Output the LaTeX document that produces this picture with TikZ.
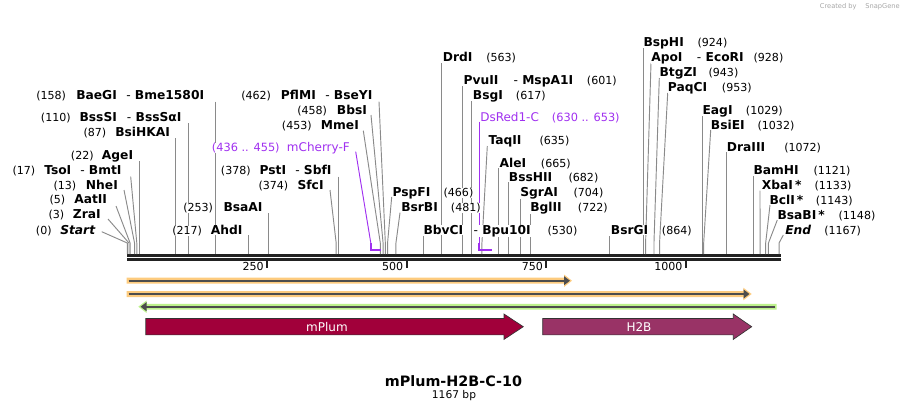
\documentclass[tikz,border=0pt]{standalone}
\usepackage{fontspec}
\setmainfont{DejaVu Sans}
\usetikzlibrary{arrows.meta}
\definecolor{primer}{HTML}{A030F0}
\definecolor{hlorange}{HTML}{FDCB7E}
\definecolor{hlgreen}{HTML}{BDF28C}
\definecolor{darkarrow}{HTML}{4D4D4D}
\definecolor{plumc}{HTML}{A1003A}
\definecolor{htwob}{HTML}{993366}
\definecolor{cutgray}{HTML}{8A8A8A}
\definecolor{bbone}{HTML}{222222}
\newcommand\bpx[1]{127.3+0.5585*#1}
\newcommand\slcut[4]{\coordinate (#1-t) at (#2,#3); \coordinate (#1-b) at ({\bpx{#4}},243); \coordinate (#1-s) at ({\bpx{#4}},254); \draw[cut] (#1-t) -- (#1-b) -- (#1-s);}
\newcommand\vcut[3]{\coordinate (#1-t) at ({\bpx{#3}},#2); \coordinate (#1-s) at ({\bpx{#3}},254); \draw[cut] (#1-t) -- (#1-s);}
\tikzset{
  cut/.style={draw=cutgray, line width=0.7pt},
  nm/.style={anchor=base west, inner sep=0pt, fill=white, font=\fontsize{9.2}{11}\selectfont\bfseries},
  nb/.style={anchor=base west, inner sep=0pt, fill=white, font=\fontsize{8.3}{10}\selectfont},
  pnm/.style={anchor=base west, inner sep=0pt, fill=white, text=primer, font=\fontsize{9}{11}\selectfont},
  pnb/.style={anchor=base west, inner sep=0pt, fill=white, text=primer, font=\fontsize{8.5}{10}\selectfont},
  pline/.style={draw=primer, line width=0.7pt},
  pmark/.style={draw=primer, line width=1.6pt},
  tick/.style={draw=bbone, line width=1.5pt},
  ticklab/.style={anchor=east, inner sep=0pt, font=\fontsize{8.3}{10}\selectfont},
  darr/.style={draw=darkarrow, line width=1.5pt},
  feat/.style={draw=black!80, line width=0.5pt},
  featlab/.style={text=white, font=\fontsize{9}{11}\selectfont, inner sep=0pt}
}
\begin{document}
\begin{tikzpicture}[x=0.75pt,y=-0.75pt]
\useasboundingbox (0,0) rectangle (908,412);
% backbone
\fill[bbone] (126.7,254) rectangle (780.7,257);
\fill[bbone] (126.7,258) rectangle (780.7,261);
% ticks
\foreach \v/\n in {250/t250,500/t500,750/t750,1000/t1000}{
  \coordinate (\n-a) at ({\bpx{\v}},261);
  \coordinate (\n-b) at ({\bpx{\v}},268.3);
  \draw[tick] (\n-a) -- (\n-b);
  \node[ticklab] (\n-l) at ({\bpx{\v}-3},266.8) {\v};
}
% cut lines
\slcut{Start}{101.7}{231.7}{0}
\slcut{ZraI}{108}{219}{3}
\slcut{AatII}{116}{206}{5}
\slcut{NheI}{124}{190}{13}
\slcut{TsoI}{130.7}{176.7}{17}
\vcut{AgeI}{161}{22}
\vcut{BsiHKAI}{138.3}{87}
\vcut{BssSI}{123.3}{110}
\vcut{BaeGI}{101.7}{158}
\vcut{AhdI}{235}{217}
\vcut{BsaAI}{213.3}{253}
\slcut{SfcI}{330}{190}{374}
\vcut{PstI}{176.7}{378}
\slcut{MmeI}{363.3}{130.7}{453}
\slcut{BbsI}{371}{115}{458}
\slcut{PflMI}{379}{101.7}{462}
\slcut{PspFI}{391.7}{197}{466}
\slcut{BsrBI}{400}{212.7}{481}
\vcut{BbvCI}{236}{530}
\vcut{DrdI}{63.3}{563}
\vcut{PvuII}{86}{601}
\vcut{BsgI}{101}{617}
\slcut{TaqII}{487.3}{146}{635}
\vcut{AleI}{168}{665}
\vcut{BssHII}{182}{682}
\vcut{SgrAI}{197}{704}
\vcut{BglII}{212}{722}
\vcut{BsrGI}{236}{864}
\vcut{BspHI}{48.3}{924}
\slcut{ApoI}{651}{63}{928}
\slcut{BtgZI}{659.3}{78}{943}
\slcut{PaqCI}{667.7}{93}{953}
\vcut{EagI}{116}{1029}
\slcut{BsiEI}{710.7}{130}{1032}
\vcut{DraIII}{152}{1072}
\vcut{BamHI}{176}{1121}
\slcut{XbaI}{760}{190.7}{1133}
\slcut{BclI}{770}{205}{1143}
\slcut{BsaBI}{777.3}{220}{1148}
\slcut{End}{783.3}{235}{1167}
% primers
\coordinate (mc-t) at (355.7,151.7);
\coordinate (mc-b) at ({\bpx{436}},243);
\coordinate (mc-s) at ({\bpx{436}},250);
\coordinate (mc-e) at ({\bpx{455}},250);
\draw[pline] (mc-t) -- (mc-b);
\draw[pmark] (mc-b) -- (mc-s) -- (mc-e);
\coordinate (ds-t) at ({\bpx{630}},121.7);
\coordinate (ds-b) at ({\bpx{630}},243);
\coordinate (ds-s) at ({\bpx{630}},250);
\coordinate (ds-e) at ({\bpx{653}},250);
\draw[pline] (ds-t) -- (ds-b);
\draw[pmark] (ds-b) -- (ds-s) -- (ds-e);
% labels left group
\node[nb] (n-Start) at (35.7,234.5) {(0)};
\node[nm] (l-Start) at (60,234.5) {\itshape Start};
\node[nb] (n-ZraI) at (48.3,218.8) {(3)};
\node[nm] (l-ZraI) at (72.7,218.8) {ZraI};
\node[nb] (n-AatII) at (49.3,203.8) {(5)};
\node[nm] (l-AatII) at (74,203.8) {AatII};
\node[nb] (n-NheI) at (53.3,189.5) {(13)};
\node[nm] (l-NheI) at (85.7,189.5) {NheI};
\node[nb] (n-TsoI) at (12.3,174.5) {(17)};
\node[nm] (l-TsoI) at (44,174.5) {TsoI};
\node[nm] (m-TsoI) at (80,174.5) {{\mdseries -} BmtI};
\node[nb] (n-AgeI) at (70.7,159.5) {(22)};
\node[nm] (l-AgeI) at (101.7,159.5) {AgeI};
\node[nb] (n-BsiHKAI) at (83.3,136.2) {(87)};
\node[nm] (l-BsiHKAI) at (115,136.2) {BsiHKAI};
\node[nb] (n-BssSI) at (40.7,121.2) {(110)};
\node[nm] (l-BssSI) at (79.3,121.2) {BssSI};
\node[nm] (m-BssSI) at (126.7,121.2) {{\mdseries -} BssSαI};
\node[nb] (n-BaeGI) at (36,99.5) {(158)};
\node[nm] (l-BaeGI) at (76,99.5) {BaeGI};
\node[nm] (m-BaeGI) at (126,99.5) {{\mdseries -} Bme1580I};
% middle group
\node[nb] (n-AhdI) at (172,234.5) {(217)};
\node[nm] (l-AhdI) at (210.7,234.5) {AhdI};
\node[nb] (n-BsaAI) at (183,211.2) {(253)};
\node[nm] (l-BsaAI) at (223.3,211.2) {BsaAI};
\node[nb] (n-SfcI) at (258.3,189.5) {(374)};
\node[nm] (l-SfcI) at (297.3,189.5) {SfcI};
\node[nb] (n-PstI) at (220.7,174.5) {(378)};
\node[nm] (l-PstI) at (259.3,174.5) {PstI};
\node[nm] (m-PstI) at (295,174.5) {{\mdseries -} SbfI};
\node[pnb] (n-mc) at (211.7,151.2) {(436 .. 455)};
\node[pnm] (l-mc) at (286.7,151.2) {mCherry-F};
\node[nb] (n-MmeI) at (281.7,129.5) {(453)};
\node[nm] (l-MmeI) at (320.7,129.5) {MmeI};
\node[nb] (n-BbsI) at (297,114.5) {(458)};
\node[nm] (l-BbsI) at (336.7,114.5) {BbsI};
\node[nb] (n-PflMI) at (241,99.5) {(462)};
\node[nm] (l-PflMI) at (280.7,99.5) {PflMI};
\node[nm] (m-PflMI) at (325,99.5) {{\mdseries -} BseYI};
\node[nm] (l-PspFI) at (392.3,196.2) {PspFI};
\node[nb] (n-PspFI) at (443.3,196.2) {(466)};
\node[nm] (l-BsrBI) at (401,211.2) {BsrBI};
\node[nb] (n-BsrBI) at (450.7,211.2) {(481)};
\node[nm] (l-BbvCI) at (423.3,234.5) {BbvCI};
\node[nm] (m-BbvCI) at (473.3,234.5) {{\mdseries -} Bpu10I};
\node[nb] (n-BbvCI) at (547.3,234.5) {(530)};
% right group
\node[nm] (l-DrdI) at (442.7,61.2) {DrdI};
\node[nb] (n-DrdI) at (486,61.2) {(563)};
\node[nm] (l-PvuII) at (463.3,84.5) {PvuII};
\node[nm] (m-PvuII) at (513.3,84.5) {{\mdseries -} MspA1I};
\node[nb] (n-PvuII) at (586.7,84.5) {(601)};
\node[nm] (l-BsgI) at (472.7,99.5) {BsgI};
\node[nb] (n-BsgI) at (515.7,99.5) {(617)};
\node[pnm] (l-ds) at (480,121.2) {DsRed1-C};
\node[pnb] (n-ds) at (551.7,121.2) {(630 .. 653)};
\node[nm] (l-TaqII) at (488.3,144.5) {TaqII};
\node[nb] (n-TaqII) at (539.3,144.5) {(635)};
\node[nm] (l-AleI) at (499.3,167.2) {AleI};
\node[nb] (n-AleI) at (540.7,167.2) {(665)};
\node[nm] (l-BssHII) at (508.7,181.2) {BssHII};
\node[nb] (n-BssHII) at (568.3,181.2) {(682)};
\node[nm] (l-SgrAI) at (520,196.2) {SgrAI};
\node[nb] (n-SgrAI) at (573.3,196.2) {(704)};
\node[nm] (l-BglII) at (530,211.2) {BglII};
\node[nb] (n-BglII) at (577.7,211.2) {(722)};
\node[nm] (l-BsrGI) at (610.7,234.5) {BsrGI};
\node[nb] (n-BsrGI) at (661.7,234.5) {(864)};
\node[nm] (l-BspHI) at (643.3,46.8) {BspHI};
\node[nb] (n-BspHI) at (697.3,46.8) {(924)};
\node[nm] (l-ApoI) at (651,61.2) {ApoI};
\node[nm] (m-ApoI) at (696.7,61.2) {{\mdseries -} EcoRI};
\node[nb] (n-ApoI) at (753.3,61.2) {(928)};
\node[nm] (l-BtgZI) at (659.3,76.2) {BtgZI};
\node[nb] (n-BtgZI) at (708.3,76.2) {(943)};
\node[nm] (l-PaqCI) at (667.7,91.8) {PaqCI};
\node[nb] (n-PaqCI) at (721.7,91.8) {(953)};
\node[nm] (l-EagI) at (702.3,114.5) {EagI};
\node[nb] (n-EagI) at (745.7,114.5) {(1029)};
\node[nm] (l-BsiEI) at (710.7,129.5) {BsiEI};
\node[nb] (n-BsiEI) at (757.3,129.5) {(1032)};
\node[nm] (l-DraIII) at (726.7,151.2) {DraIII};
\node[nb] (n-DraIII) at (784,151.2) {(1072)};
\node[nm] (l-BamHI) at (753.3,174.5) {BamHI};
\node[nb] (n-BamHI) at (813.3,174.5) {(1121)};
\node[nm] (l-XbaI) at (761.7,189.5) {XbaI\,*};
\node[nb] (n-XbaI) at (814.3,189.5) {(1133)};
\node[nm] (l-BclI) at (769.3,204.5) {BclI\,*};
\node[nb] (n-BclI) at (815.7,204.5) {(1143)};
\node[nm] (l-BsaBI) at (777.3,219.5) {BsaBI\,*};
\node[nb] (n-BsaBI) at (838.3,219.5) {(1148)};
\node[nm] (l-End) at (785,234.5) {\itshape End};
\node[nb] (n-End) at (824,234.5) {(1167)};
% highlighted arrows
\fill[hlorange] (126.7,277.7) -- (564,277.7) -- (564,274.5) -- (572,280.7) -- (564,287) -- (564,283.7) -- (126.7,283.7) -- cycle;
\coordinate (o1-a) at (128.5,280.7); \coordinate (o1-b) at (570,280.7);
\draw[darr, -{Triangle[length=4.5pt,width=6.5pt]}] (o1-a) -- (o1-b);
\fill[hlorange] (126.7,291) -- (743.3,291) -- (743.3,287.7) -- (751.7,294) -- (743.3,300.3) -- (743.3,297) -- (126.7,297) -- cycle;
\coordinate (o2-a) at (128.5,294); \coordinate (o2-b) at (749.5,294);
\draw[darr, -{Triangle[length=4.5pt,width=6.5pt]}] (o2-a) -- (o2-b);
\fill[hlgreen] (776.7,303.8) -- (146.5,303.8) -- (146.5,300.5) -- (138.3,306.7) -- (146.5,312.9) -- (146.5,309.6) -- (776.7,309.6) -- cycle;
\coordinate (g-a) at (775,306.7); \coordinate (g-b) at (140.5,306.7);
\draw[darr, -{Triangle[length=4.5pt,width=6.5pt]}] (g-a) -- (g-b);
% features
\filldraw[feat, fill=plumc] (145.8,318.5) -- (504,318.5) -- (504,314) -- (523.3,326.7) -- (504,339.4) -- (504,334.9) -- (145.8,334.9) -- cycle;
\node[featlab] (f-mPlum) at (327,326.7) {mPlum};
\filldraw[feat, fill=htwob] (542.7,318.5) -- (733.3,318.5) -- (733.3,314) -- (751.7,326.7) -- (733.3,339.4) -- (733.3,334.9) -- (542.7,334.9) -- cycle;
\node[featlab] (f-H2B) at (639,326.7) {H2B};
% title
\node[font=\fontsize{10.75}{13}\selectfont\bfseries, inner sep=0pt] (title) at (453.5,381.5) {mPlum-H2B-C-10};
\node[font=\fontsize{8}{10}\selectfont, inner sep=0pt] (len) at (454,395.5) {1167 bp};
\node[anchor=east, inner sep=0pt, text=gray!70, font=\fontsize{5}{6}\selectfont] (credit) at (900,7) {Created by \quad SnapGene};
\end{tikzpicture}
\end{document}
